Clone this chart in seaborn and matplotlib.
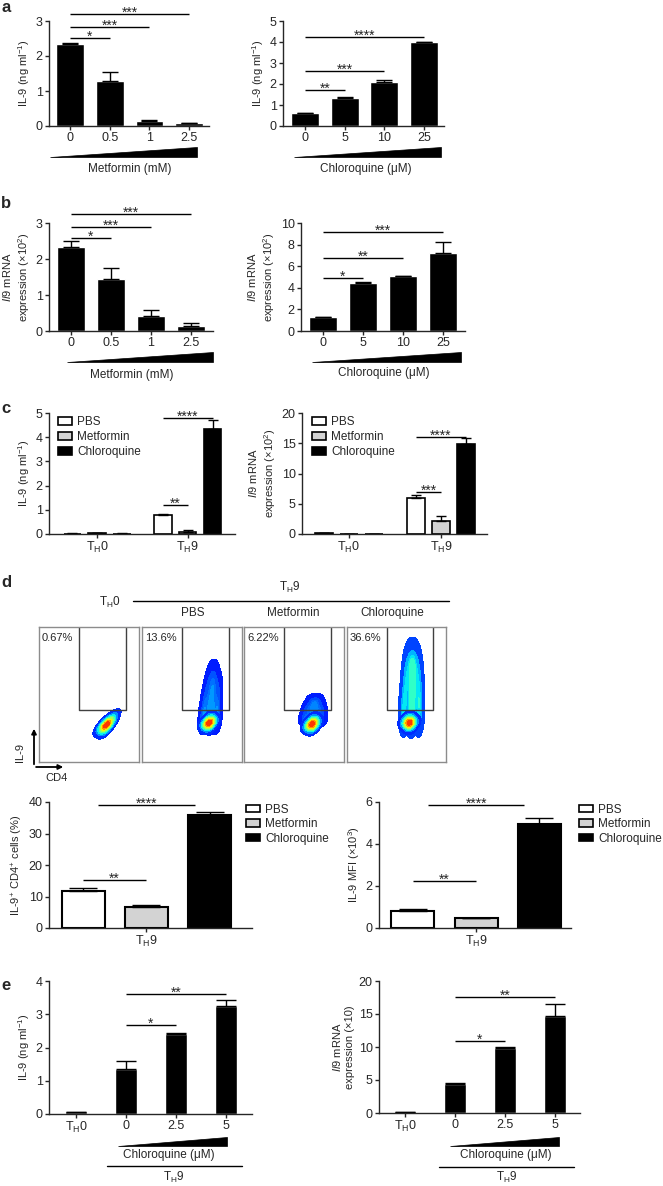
"""
IL-9 / Il9 response of TH9 cells to metformin and chloroquine (panels a-e).
"""
import numpy as np
import pandas as pd
import matplotlib
matplotlib.use('Agg')
import matplotlib.pyplot as plt
import seaborn as sns
from matplotlib.colors import ListedColormap
from matplotlib.patches import Patch, Polygon, FancyArrowPatch
from matplotlib.lines import Line2D

W, H = 663, 1186

# ---------------- data ----------------
TH0 = 'T$_{\\mathrm{H}}$0'
TH9 = 'T$_{\\mathrm{H}}$9'
treatments = ['PBS', 'Metformin', 'Chloroquine']
treat_colors = ['white', '#d3d3d3', 'black']

# a: IL-9 protein (ng/ml)
met_doses = ['0', '0.5', '1', '2.5']
a_met_val = [2.33, 1.30, 0.15, 0.08]
a_met_err = [0.05, 0.23, 0.01, 0.01]
a_met_sig = [(0, 1, 2.51, '*'), (0, 2, 2.83, '***'), (0, 3, 3.2, '***')]
cq_doses = ['0', '5', '10', '25']
a_cq_val = [0.60, 1.35, 2.08, 4.00]
a_cq_err = [0.02, 0.03, 0.13, 0.02]
a_cq_sig = [(0, 1, 1.71, '**'), (0, 2, 2.62, '***'), (0, 3, 4.24, '****')]

# b: Il9 mRNA (x10^2)
b_met_val = [2.34, 1.44, 0.43, 0.13]
b_met_err = [0.16, 0.30, 0.15, 0.10]
b_met_sig = [(0, 1, 2.58, '*'), (0, 2, 2.9, '***'), (0, 3, 3.25, '***')]
b_cq_val = [1.30, 4.40, 5.05, 7.20]
b_cq_err = [0.02, 0.15, 0.06, 1.00]
b_cq_sig = [(0, 1, 4.88, '*'), (0, 2, 6.8, '**'), (0, 3, 9.14, '***')]

# c: TH0 vs TH9 with treatments
c_cells = [TH0, TH9]
c_il9_pbs = [0.02, 0.80]
c_il9_met = [0.03, 0.10]
c_il9_cq = [0.02, 4.35]
c_il9_pbs_err = [0.01, 0.03]
c_il9_met_err = [0.02, 0.07]
c_il9_cq_err = [0.01, 0.35]
c_il9_sig = [(0, 1, 1.2, '**'), (0, 2, 4.8, '****')]
c_mrna_pbs = [0.10, 5.90]
c_mrna_met = [0.0, 2.15]
c_mrna_cq = [0.0, 14.9]
c_mrna_pbs_err = [0.08, 0.55]
c_mrna_met_err = [0.0, 0.85]
c_mrna_cq_err = [0.0, 1.0]
c_mrna_sig = [(0, 1, 7.0, '***'), (0, 2, 16.0, '****')]

# d: flow cytometry, gated IL-9+ percentages
flow_titles = ['0.67%', '13.6%', '6.22%', '36.6%']
# estimated event positions (fraction of plot box) and relative weights:
# dense core of each population ...
th0_core_x = [0.67, 0.62, 0.72, 0.67, 0.68, 0.75]
th0_core_y = [0.27, 0.26, 0.29, 0.235, 0.305, 0.34]
th0_core_w = [1.0, 0.4, 0.4, 0.4, 0.4, 0.25]
pbs_core_x = [0.67, 0.62, 0.72, 0.67, 0.68]
pbs_core_y = [0.29, 0.28, 0.30, 0.255, 0.33]
pbs_core_w = [1.0, 0.4, 0.4, 0.4, 0.4]
met_core_x = [0.68, 0.63, 0.73, 0.68, 0.69]
met_core_y = [0.28, 0.27, 0.29, 0.245, 0.32]
met_core_w = [1.0, 0.4, 0.4, 0.4, 0.4]
cq_core_x = [0.63, 0.58, 0.68, 0.63, 0.63]
cq_core_y = [0.29, 0.29, 0.30, 0.255, 0.33]
cq_core_w = [1.0, 0.4, 0.4, 0.4, 0.4]
# ... and the sparser IL-9 producing tail
pbs_tail_x = [0.61, 0.68, 0.75, 0.625, 0.69, 0.755, 0.64, 0.70, 0.76,
              0.66, 0.71, 0.76, 0.68, 0.71, 0.74]
pbs_tail_y = [0.32, 0.32, 0.32, 0.41, 0.41, 0.41, 0.50, 0.50, 0.50,
              0.58, 0.58, 0.58, 0.66, 0.66, 0.66]
pbs_tail_w = [0.8, 1.0, 0.8, 0.6, 0.8, 0.6, 0.45, 0.6, 0.45,
              0.35, 0.45, 0.35, 0.2, 0.3, 0.2]
met_tail_x = [0.61, 0.69, 0.77, 0.63, 0.70, 0.77, 0.665, 0.71, 0.755]
met_tail_y = [0.32, 0.32, 0.32, 0.39, 0.39, 0.39, 0.45, 0.45, 0.45]
met_tail_w = [0.8, 1.0, 0.8, 0.6, 0.8, 0.6, 0.35, 0.5, 0.35]
cq_tail_x = [0.57, 0.65, 0.73, 0.575, 0.655, 0.73, 0.585, 0.66, 0.73,
             0.595, 0.66, 0.725, 0.60, 0.66, 0.72, 0.62, 0.66, 0.70]
cq_tail_y = [0.32, 0.32, 0.32, 0.42, 0.42, 0.42, 0.52, 0.52, 0.52,
             0.62, 0.62, 0.62, 0.71, 0.71, 0.71, 0.79, 0.79, 0.79]
cq_tail_w = [0.8, 1.0, 0.8, 0.75, 0.95, 0.75, 0.7, 0.9, 0.7,
             0.6, 0.8, 0.6, 0.5, 0.7, 0.5, 0.35, 0.5, 0.35]

d_pct = [11.6, 6.8, 35.8]
d_pct_err = [1.0, 0.35, 0.9]
d_pct_sig = [(0, 1, 15.1, '**', 0.0), (0, 2, 39.0, '****', 0.35)]
d_mfi = [0.79, 0.47, 4.97]
d_mfi_err = [0.11, 0.02, 0.27]
d_mfi_sig = [(0, 1, 2.25, '**', 0.0), (0, 2, 5.85, '****', 0.35)]

# e: chloroquine titration in TH9
e_groups = [TH0, '0', '2.5', '5']
e_il9 = [0.05, 1.34, 2.41, 3.25]
e_il9_err = [0.01, 0.25, 0.03, 0.17]
e_il9_sig = [(1, 2, 2.67, '*'), (1, 3, 3.6, '**')]
e_mrna = [0.10, 4.37, 9.80, 14.7]
e_mrna_err = [0.02, 0.15, 0.20, 1.75]
e_mrna_sig = [(1, 2, 10.9, '*'), (1, 3, 17.55, '**')]

# ---------------- style ----------------
sns.set_style('ticks')
plt.rcParams['font.family'] = ['Liberation Sans', 'DejaVu Sans']
plt.rcParams['mathtext.fontset'] = 'custom'
plt.rcParams['mathtext.rm'] = 'Liberation Sans'
plt.rcParams['mathtext.it'] = 'Liberation Sans:italic'
plt.rcParams['mathtext.bf'] = 'Liberation Sans:bold'
plt.rcParams['font.size'] = 8.5

FS = 8.5
LW = 1.0

fig = plt.figure(figsize=(W / 100, H / 100), dpi=100)


def px_ax(l, t, r, b):
    return fig.add_axes([l / W, 1 - b / H, (r - l) / W, (b - t) / H])


def fx(x):
    return x / W


def fy(y):
    return 1 - y / H


def ftext(x, y, s, **kw):
    kw.setdefault('fontsize', FS)
    kw.setdefault('ha', 'center')
    kw.setdefault('va', 'center')
    fig.text(fx(x), fy(y), s, **kw)


def fline(x0, x1, y):
    fig.add_artist(Line2D([fx(x0), fx(x1)], [fy(y), fy(y)], color='black', lw=LW))


def wedge(x0, x1, ytop, ybot):
    fig.add_artist(Polygon([(fx(x0), fy(ybot)), (fx(x1), fy(ybot)), (fx(x1), fy(ytop))],
                           closed=True, facecolor='black', edgecolor='black', lw=0.5))


def style(ax, ylim, yticks, xlim, ylabel):
    ax.set_ylim(ylim)
    ax.set_yticks(yticks)
    ax.set_xlim(xlim)
    sns.despine(ax=ax)
    for s in ['left', 'bottom']:
        ax.spines[s].set_linewidth(LW)
    ax.tick_params(length=3, width=LW, labelsize=9, pad=1.5)
    ax.set_xlabel('')
    ax.set_ylabel(ylabel, fontsize=8, labelpad=3)


def centers(bars):
    return [b.get_x() + b.get_width() / 2 for b in bars]


def add_err(ax, bars, errs, cap):
    xs = centers(bars)
    ys = [b.get_height() for b in bars]
    ax.errorbar(xs, ys, yerr=[np.zeros(len(errs)), errs], fmt='none', ecolor='black',
                elinewidth=LW, capsize=cap, capthick=LW, zorder=1)


def sig(ax, x1, x2, y, stars):
    ax.plot([x1, x2], [y, y], color='black', lw=LW, clip_on=False, solid_capstyle='butt')
    ax.annotate(stars, xy=((x1 + x2) / 2, y), xytext=(0, -2), textcoords='offset points',
                ha='center', va='baseline', fontsize=10, annotation_clip=False)


def simple_panel(ax, labels, vals, errs, sigs, width, cap):
    sns.barplot(x=labels, y=vals, order=labels, color='black', saturation=1,
                width=width, errorbar=None, ax=ax)
    bars = list(ax.containers[0])
    add_err(ax, bars, errs, cap)
    xs = centers(bars)
    for i, j, y, s in sigs:
        sig(ax, xs[i], xs[j], y, s)


def treat_legend(ax, anchor, spacing):
    handles = [Patch(facecolor=c, edgecolor='black', linewidth=1.2) for c in treat_colors]
    ax.legend(handles, treatments, loc='upper left', bbox_to_anchor=anchor, frameon=False,
              fontsize=FS, handlelength=1.2, handleheight=0.6, handletextpad=0.45,
              labelspacing=spacing, borderpad=0, borderaxespad=0)


def hue_panel(ax, cells, series, errs, sigs, width, gap, cap, lw):
    df = pd.DataFrame({
        'cell': [c for _ in treatments for c in cells],
        'treatment': [t for t in treatments for _ in cells],
        'val': [v for s in series for v in s],
    })
    sns.barplot(data=df, x='cell', y='val', hue='treatment', order=cells, hue_order=treatments,
                palette=treat_colors, saturation=1, width=width, gap=gap, errorbar=None,
                edgecolor='black', linewidth=lw, legend=False, ax=ax)
    conts = [list(c) for c in ax.containers]
    for k, cont in enumerate(conts):
        add_err(ax, cont, errs[k], cap)
    last = len(cells) - 1
    for item in sigs:
        i, j, y, s = item[:4]
        shrink = item[4] if len(item) > 4 else 0.0
        bi = conts[i][last]
        bj = conts[j][last]
        x1 = bi.get_x() + bi.get_width() / 2 + shrink * bi.get_width()
        x2 = bj.get_x() + bj.get_width() / 2 - shrink * bj.get_width()
        sig(ax, x1, x2, y, s)


IL9_LABEL = 'IL-9 (ng ml$^{-1}$)'
MRNA2 = '$\\mathit{Il9}$ mRNA\nexpression (×10$^{2}$)'

# ---------------- panel a ----------------
ax = px_ax(49, 21, 209, 126)
simple_panel(ax, met_doses, a_met_val, a_met_err, a_met_sig, 0.7, 6)
style(ax, (0, 3), [0, 1, 2, 3], (-0.53, 3.5), IL9_LABEL)
ax = px_ax(283, 21, 444, 126)
simple_panel(ax, cq_doses, a_cq_val, a_cq_err, a_cq_sig, 0.7, 6)
style(ax, (0, 5), [0, 1, 2, 3, 4, 5], (-0.55, 3.5), IL9_LABEL)
wedge(50, 197, 147, 157)
wedge(294, 441, 147, 157)
ftext(130, 169, 'Metformin (mM)')
ftext(366, 169, 'Chloroquine (μM)')

# ---------------- panel b ----------------
ax = px_ax(49, 223, 213, 331)
simple_panel(ax, met_doses, b_met_val, b_met_err, b_met_sig, 0.7, 6)
style(ax, (0, 3), [0, 1, 2, 3], (-0.55, 3.55), MRNA2)
ax = px_ax(301, 223, 465, 331)
simple_panel(ax, cq_doses, b_cq_val, b_cq_err, b_cq_sig, 0.7, 6)
style(ax, (0, 10), [0, 2, 4, 6, 8, 10], (-0.55, 3.55), MRNA2)
wedge(67, 213, 352, 362)
wedge(312, 461, 352, 362)
ftext(132, 375, 'Metformin (mM)')
ftext(384, 373, 'Chloroquine (μM)')

# ---------------- panel c ----------------
ax = px_ax(49, 413, 235, 534)
hue_panel(ax, c_cells, [c_il9_pbs, c_il9_met, c_il9_cq],
          [c_il9_pbs_err, c_il9_met_err, c_il9_cq_err], c_il9_sig, 0.82, 0.3, 3.5, 1.2)
style(ax, (0, 5), [0, 1, 2, 3, 4, 5], (-0.53, 1.52), IL9_LABEL)
treat_legend(ax, (0.048, 0.975), 0.25)
ax = px_ax(302, 413, 487, 534)
hue_panel(ax, c_cells, [c_mrna_pbs, c_mrna_met, c_mrna_cq],
          [c_mrna_pbs_err, c_mrna_met_err, c_mrna_cq_err], c_mrna_sig, 0.82, 0.3, 3.5, 1.2)
style(ax, (0, 20), [0, 5, 10, 15, 20], (-0.51, 1.5), MRNA2)
treat_legend(ax, (0.054, 0.975), 0.25)

# ---------------- panel d: flow plots ----------------
jet = plt.cm.jet
core_cmap = ListedColormap(jet(np.linspace(0.12, 0.9, 256)))
tail_tops = [0.3, 0.3, 0.27, 0.45]
flow_boxes = [(39, 627, 139, 762), (142, 627, 242, 762), (244, 627, 344, 762), (347, 627, 446, 762)]
flow_cores = [(th0_core_x, th0_core_y, th0_core_w), (pbs_core_x, pbs_core_y, pbs_core_w),
              (met_core_x, met_core_y, met_core_w), (cq_core_x, cq_core_y, cq_core_w)]
flow_tails = [None, (pbs_tail_x, pbs_tail_y, pbs_tail_w),
              (met_tail_x, met_tail_y, met_tail_w), (cq_tail_x, cq_tail_y, cq_tail_w)]
for box, core, tail, top, pct in zip(flow_boxes, flow_cores, flow_tails, tail_tops, flow_titles):
    ax = px_ax(*box)
    if tail is not None:
        tail_cmap = ListedColormap(jet(np.linspace(0.12, top, 256)))
        sns.kdeplot(x=tail[0], y=tail[1], weights=tail[2], fill=True, levels=5, thresh=0.04,
                    cmap=tail_cmap, bw_adjust=0.8, ax=ax)
    sns.kdeplot(x=core[0], y=core[1], weights=core[2], fill=True, levels=9, thresh=0.05,
                cmap=core_cmap, bw_adjust=1.5, ax=ax)
    ax.set_xlim(0, 1)
    ax.set_ylim(0, 1)
    ax.set_xticks([])
    ax.set_yticks([])
    ax.set_xlabel('')
    ax.set_ylabel('')
    for s in ax.spines.values():
        s.set_color('#8c8c8c')
        s.set_linewidth(1.0)
        s.set_visible(True)
    ax.plot([0.40, 0.40, 0.87, 0.87], [1.0, 0.385, 0.385, 1.0], color='#404040', lw=1.0)
    ax.text(0.03, 0.92, pct, transform=ax.transAxes, fontsize=8, ha='left', va='center')

ftext(110, 602, TH0)
ftext(290, 587, TH9)
fline(133, 449, 601)
ftext(193, 613, 'PBS')
ftext(293, 613, 'Metformin')
ftext(392, 613, 'Chloroquine')
fig.add_artist(FancyArrowPatch((fx(34), fy(767)), (fx(34), fy(726)), transform=fig.transFigure,
                               arrowstyle='-|>', mutation_scale=7, lw=1.3, color='black'))
fig.add_artist(FancyArrowPatch((fx(33.3), fy(767)), (fx(66), fy(767)), transform=fig.transFigure,
                               arrowstyle='-|>', mutation_scale=7, lw=1.3, color='black'))
ftext(20, 752, 'IL-9', rotation=90, fontsize=8)
ftext(57, 778, 'CD4', fontsize=8)

# ---------------- panel d: bars ----------------
ax = px_ax(49, 802, 252, 928)
hue_panel(ax, [TH9], [[v] for v in d_pct], [[e] for e in d_pct_err], d_pct_sig, 0.8, 0.32, 10, 1.5)
style(ax, (0, 40), [0, 10, 20, 30, 40], (-0.41, 0.445), 'IL-9$^{+}$ CD4$^{+}$ cells (%)')
treat_legend(ax, (0.97, 0.985), 0.2)
ax = px_ax(379, 802, 571, 928)
hue_panel(ax, [TH9], [[v] for v in d_mfi], [[e] for e in d_mfi_err], d_mfi_sig, 0.8, 0.32, 10, 1.5)
style(ax, (0, 6), [0, 2, 4, 6], (-0.41, 0.40), 'IL-9 MFI (×10$^{3}$)')
treat_legend(ax, (1.04, 0.985), 0.2)

# ---------------- panel e ----------------
ax = px_ax(49, 981, 252, 1114)
simple_panel(ax, e_groups, e_il9, e_il9_err, e_il9_sig, 0.44, 7)
style(ax, (0, 4), [0, 1, 2, 3, 4], (-0.54, 3.52), IL9_LABEL)
ax = px_ax(379, 981, 580, 1113)
simple_panel(ax, e_groups, e_mrna, e_mrna_err, e_mrna_sig, 0.45, 7)
style(ax, (0, 20), [0, 5, 10, 15, 20], (-0.52, 3.5), '$\\mathit{Il9}$ mRNA\nexpression (×10)')
wedge(118, 227, 1137, 1146)
wedge(450, 559, 1137, 1146)
ftext(169, 1155, 'Chloroquine (μM)')
ftext(506, 1155, 'Chloroquine (μM)')
fline(107, 242, 1166)
fline(439, 574, 1167)
ftext(174, 1177, TH9)
ftext(507, 1177, TH9)

# panel letters
for letter, y in zip('abcde', [12, 208, 413, 587, 990]):
    ftext(1, y, letter, fontsize=12, fontweight='bold', ha='left', va='baseline')

fig.savefig('out.png', dpi=100)
